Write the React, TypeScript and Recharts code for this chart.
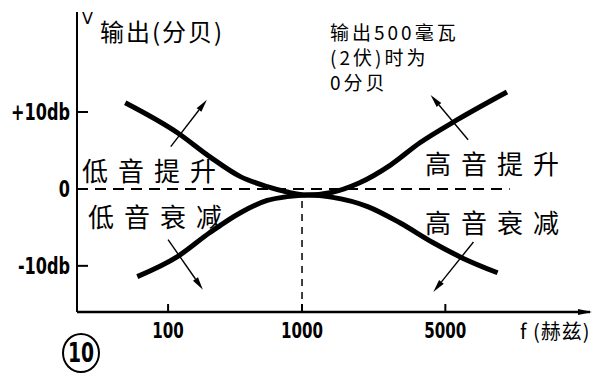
import React from 'react';
import { LineChart, Line, XAxis, YAxis, ReferenceLine } from 'recharts';

// frequency axis is drawn in "position" units: 100 Hz -> 1, 1000 Hz -> 2, 5000 Hz as printed
const FREQ_TICKS = [1, 2, 3.07];
const FREQ_LABELS = ['100', '1000', '5000'];
const DB_TICKS = [-10, 0, 10];
const DB_LABELS = ['-10db', '0', '+10db'];

// 提升 (boost) curve
const BOOST_X = [0.68, 1.07, 1.31, 1.54, 1.74, 1.89, 2.04, 2.21, 2.43, 2.66, 2.88, 3.16, 3.53];
const BOOST_Y = [11.2, 7.3, 4.2, 1.6, 0.3, -0.4, -0.8, -0.5, 0.8, 3.1, 6.0, 9.0, 12.6];
// 衰减 (cut) curve
const CUT_X = [0.77, 1.07, 1.31, 1.54, 1.74, 1.89, 2.04, 2.23, 2.49, 2.73, 2.98, 3.2, 3.46];
const CUT_Y = [-11.4, -8.8, -5.7, -3.1, -1.5, -1.0, -0.8, -1.1, -2.3, -4.4, -7.0, -9.0, -10.9];

// direction arrows: from (x1,y1) to (x2,y2), head at the end
const ARROW_X1 = [1.02, 1.0, 3.24, 3.28];
const ARROW_Y1 = [5.5, -6.6, 6.4, -6.9];
const ARROW_X2 = [1.29, 1.26, 2.96, 2.98];
const ARROW_Y2 = [11.6, -13.1, 12.2, -13.4];

const X_DOMAIN = [0.32, 4.15];
const Y_DOMAIN = [-16, 23];

const boostData = BOOST_X.map((u, i) => ({ u, v: BOOST_Y[i] }));
const cutData = CUT_X.map((u, i) => ({ u, v: CUT_Y[i] }));

const NUM_FONT = '"DejaVu Sans", sans-serif';
const CJK_FONT = '"Noto Sans CJK SC", sans-serif';

function ArrowShape(props: any) {
  const { x1, y1, x2, y2 } = props;
  const dx = x2 - x1;
  const dy = y2 - y1;
  const len = Math.sqrt(dx * dx + dy * dy) || 1;
  const ux = dx / len;
  const uy = dy / len;
  const hl = 13;
  const hw = 3;
  const bx = x2 - ux * hl;
  const by = y2 - uy * hl;
  const pts = `${x2},${y2} ${bx - uy * hw},${by + ux * hw} ${bx + uy * hw},${by - ux * hw}`;
  return (
    <g>
      <line x1={x1} y1={y1} x2={bx} y2={by} stroke="#000" strokeWidth={1.4} />
      <polygon points={pts} fill="#000" />
    </g>
  );
}

function AxisHead(props: any) {
  const { x2, y2 } = props;
  return <polygon points={`${x2 + 2},${y2} ${x2 - 12},${y2 - 3} ${x2 - 12},${y2 + 3}`} fill="#000" />;
}

function DbTick(props: any) {
  const { x, y, payload } = props;
  const idx = DB_TICKS.indexOf(payload.value);
  return (
    <g>
      {payload.value !== 0 && (
        <line x1={x + 7} y1={y} x2={x + 18} y2={y} stroke="#000" strokeWidth={2} />
      )}
      <text
        transform={`translate(${x},${y + 8}) scale(0.7,1)`}
        textAnchor="end"
        fontFamily={NUM_FONT}
        fontWeight="bold"
        fontSize={23}
        fill="#000"
      >
        {DB_LABELS[idx]}
      </text>
    </g>
  );
}

function FreqTick(props: any) {
  const { x, y, payload } = props;
  const idx = FREQ_TICKS.indexOf(payload.value);
  return (
    <g>
      <line x1={x} y1={y} x2={x} y2={y - 8} stroke="#000" strokeWidth={2} />
      <text
        transform={`translate(${x},${y + 26}) scale(0.72,1)`}
        textAnchor="middle"
        fontFamily={NUM_FONT}
        fontWeight="bold"
        fontSize={21}
        fill="#000"
      >
        {FREQ_LABELS[idx]}
      </text>
    </g>
  );
}

const txt = (left: number, top: number, size: number, spacing: number, font: string): React.CSSProperties => ({
  position: 'absolute',
  left,
  top,
  fontSize: size,
  letterSpacing: spacing,
  fontFamily: font,
  lineHeight: 1,
  whiteSpace: 'nowrap',
  color: '#000',
});

export default function App() {
  return (
    <div style={{ position: 'absolute', left: 0, top: 0, width: 608, height: 385, background: '#fff' }}>
      <LineChart width={608} height={385} margin={{ top: 12, right: 18, bottom: 0, left: 0 }}>
        <XAxis
          type="number"
          dataKey="u"
          domain={X_DOMAIN}
          ticks={FREQ_TICKS}
          allowDataOverflow
          height={73}
          axisLine={{ stroke: '#000', strokeWidth: 2.5 }}
          tickLine={false}
          tickSize={0}
          tickMargin={0}
          tick={<FreqTick />}
        />
        <YAxis
          type="number"
          dataKey="v"
          domain={Y_DOMAIN}
          ticks={DB_TICKS}
          allowDataOverflow
          width={77}
          axisLine={{ stroke: '#000', strokeWidth: 2 }}
          tickLine={false}
          tickSize={0}
          tickMargin={7}
          tick={<DbTick />}
        />
        <ReferenceLine
          segment={[{ x: X_DOMAIN[0], y: 0 }, { x: 3.55, y: 0 }]}
          stroke="#000"
          strokeWidth={2}
          strokeDasharray="11 7"
        />
        <ReferenceLine
          segment={[{ x: 2, y: Y_DOMAIN[0] }, { x: 2, y: -0.8 }]}
          stroke="#000"
          strokeWidth={1.5}
          strokeDasharray="7 6"
        />
        <ReferenceLine
          segment={[{ x: 4.0, y: Y_DOMAIN[0] }, { x: X_DOMAIN[1], y: Y_DOMAIN[0] }]}
          shape={AxisHead}
        />
        {ARROW_X1.map((x1, i) => (
          <ReferenceLine
            key={i}
            segment={[{ x: x1, y: ARROW_Y1[i] }, { x: ARROW_X2[i], y: ARROW_Y2[i] }]}
            shape={ArrowShape}
          />
        ))}
        <Line
          data={boostData}
          dataKey="v"
          type="monotone"
          stroke="#000"
          strokeWidth={5}
          dot={false}
          isAnimationActive={false}
        />
        <Line
          data={cutData}
          dataKey="v"
          type="monotone"
          stroke="#000"
          strokeWidth={5}
          dot={false}
          isAnimationActive={false}
        />
      </LineChart>

      <div style={txt(82, 11, 16, 0, NUM_FONT)}>V</div>
      <div style={txt(100, 19, 24, 2, CJK_FONT)}>输出(分贝)</div>
      <div style={txt(330, 22, 19, 3, CJK_FONT)}>输出500毫瓦</div>
      <div style={txt(330, 47, 19, 3, CJK_FONT)}>(2伏)时为</div>
      <div style={txt(330, 72, 19, 3, CJK_FONT)}>0分贝</div>

      <div style={txt(82, 157, 26, 10, CJK_FONT)}>低音提升</div>
      <div style={txt(88, 203, 26, 10, CJK_FONT)}>低音衰减</div>
      <div style={txt(425, 150, 26, 10, CJK_FONT)}>高音提升</div>
      <div style={txt(425, 209, 26, 10, CJK_FONT)}>高音衰减</div>

      <div style={txt(520, 321, 20, 1, CJK_FONT)}>f (赫兹)</div>

      <div
        style={{
          position: 'absolute',
          left: 62,
          top: 333,
          width: 34,
          height: 36,
          border: '2.5px solid #000',
          borderRadius: '50%',
          display: 'flex',
          alignItems: 'center',
          justifyContent: 'center',
          fontFamily: NUM_FONT,
          fontWeight: 'bold',
          fontSize: 26,
          color: '#000',
        }}
      >
        <span style={{ display: 'inline-block', transform: 'scaleX(0.72)' }}>10</span>
      </div>
    </div>
  );
}
